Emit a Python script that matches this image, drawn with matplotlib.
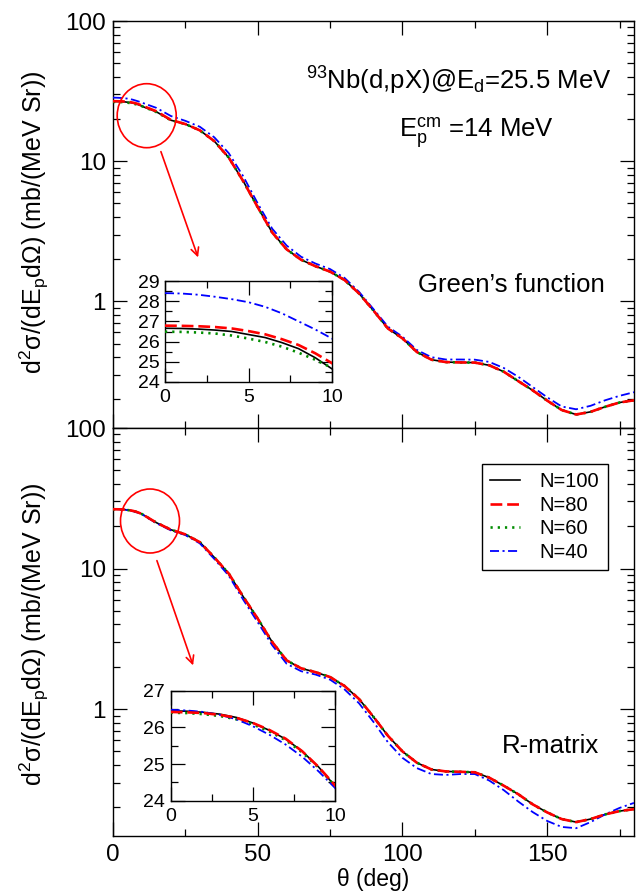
import matplotlib
matplotlib.use("Agg")
import matplotlib.pyplot as plt
from matplotlib.patches import Ellipse
from matplotlib.ticker import FixedLocator, LogLocator, NullFormatter, MultipleLocator

plt.rcParams['font.family'] = ['Liberation Sans', 'DejaVu Sans']
plt.rcParams['mathtext.fontset'] = 'custom'
plt.rcParams['mathtext.rm'] = 'Liberation Sans'
plt.rcParams['mathtext.it'] = 'Liberation Sans:italic'
plt.rcParams['mathtext.bf'] = 'Liberation Sans:bold'
plt.rcParams['mathtext.sf'] = 'Liberation Sans'
plt.rcParams['lines.scale_dashes'] = False

# ---------------- data ----------------
theta = [0, 1, 2, 3, 4, 5, 6, 7, 8, 9, 10,
         15, 20, 25, 30, 35, 40, 45, 50, 55, 60, 65, 70, 75, 80, 85, 90,
         95, 100, 105, 110, 115, 120, 125, 130, 135, 140, 145, 150, 155,
         160, 165, 170, 175, 180]

series_labels = ["N=100", "N=80", "N=60", "N=40"]

# Green's function (top panel)
green_N100 = [26.66, 26.65, 26.62, 26.57, 26.50, 26.35, 26.20, 25.95, 25.65, 25.20, 24.65,
              22.5, 19.6, 18.4, 16.6, 13.9, 10.6, 7.2, 4.7, 3.1, 2.35, 1.98, 1.78, 1.63,
              1.42, 1.14, 0.86, 0.64, 0.545, 0.435, 0.384, 0.369, 0.367, 0.366, 0.35,
              0.315, 0.27, 0.232, 0.196, 0.168, 0.156, 0.163, 0.177, 0.19, 0.197]
green_N80 = [26.79, 26.78, 26.76, 26.72, 26.65, 26.52, 26.36, 26.12, 25.83, 25.42, 24.93,
             22.7, 19.7, 18.4, 16.6, 13.9, 10.6, 7.2, 4.7, 3.1, 2.35, 1.98, 1.78, 1.63,
             1.42, 1.14, 0.86, 0.64, 0.545, 0.435, 0.384, 0.369, 0.367, 0.366, 0.35,
             0.315, 0.27, 0.232, 0.196, 0.168, 0.156, 0.163, 0.177, 0.19, 0.197]
green_N60 = [26.49, 26.48, 26.45, 26.40, 26.30, 26.15, 25.98, 25.75, 25.45, 25.10, 24.70,
             22.4, 19.6, 18.4, 16.6, 13.9, 10.6, 7.2, 4.7, 3.1, 2.35, 1.98, 1.78, 1.63,
             1.42, 1.14, 0.86, 0.64, 0.545, 0.435, 0.384, 0.369, 0.367, 0.366, 0.35,
             0.315, 0.27, 0.232, 0.196, 0.168, 0.156, 0.163, 0.177, 0.19, 0.197]
green_N40 = [28.40, 28.38, 28.32, 28.22, 28.10, 27.95, 27.72, 27.40, 27.00, 26.60, 26.15,
             24.0, 21.0, 19.4, 17.6, 14.8, 11.4, 7.8, 5.0, 3.3, 2.5, 2.08, 1.86, 1.70,
             1.47, 1.17, 0.88, 0.66, 0.56, 0.45, 0.40, 0.385, 0.385, 0.384, 0.37,
             0.335, 0.29, 0.245, 0.207, 0.178, 0.17, 0.18, 0.197, 0.212, 0.225]

# R-matrix (bottom panel)
rmat_N100 = [26.45, 26.44, 26.41, 26.36, 26.27, 26.12, 25.92, 25.68, 25.35, 24.92, 24.40,
             21.2, 18.9, 17.5, 15.4, 12.0, 9.2, 6.3, 4.4, 3.0, 2.22, 1.95, 1.83, 1.69,
             1.46, 1.18, 0.88, 0.645, 0.50, 0.415, 0.372, 0.36, 0.358, 0.355, 0.325,
             0.285, 0.248, 0.21, 0.184, 0.165, 0.157, 0.165, 0.178, 0.188, 0.194]
rmat_N80 = [26.42, 26.41, 26.39, 26.34, 26.26, 26.12, 25.93, 25.69, 25.35, 24.92, 24.42,
            21.2, 18.9, 17.5, 15.4, 12.0, 9.2, 6.3, 4.4, 3.0, 2.22, 1.95, 1.83, 1.69,
            1.46, 1.18, 0.88, 0.645, 0.50, 0.415, 0.372, 0.36, 0.358, 0.355, 0.325,
            0.285, 0.248, 0.21, 0.184, 0.165, 0.157, 0.165, 0.178, 0.188, 0.194]
rmat_N60 = [26.40, 26.39, 26.36, 26.31, 26.22, 26.08, 25.89, 25.65, 25.32, 24.90, 24.40,
            21.2, 18.9, 17.5, 15.4, 12.0, 9.2, 6.3, 4.4, 3.0, 2.22, 1.95, 1.83, 1.69,
            1.46, 1.18, 0.88, 0.645, 0.50, 0.415, 0.372, 0.36, 0.358, 0.355, 0.325,
            0.285, 0.248, 0.21, 0.184, 0.165, 0.157, 0.165, 0.178, 0.188, 0.194]
rmat_N40 = [26.48, 26.46, 26.42, 26.34, 26.22, 26.03, 25.80, 25.53, 25.20, 24.80, 24.35,
            21.0, 18.7, 17.3, 15.1, 11.7, 8.9, 6.0, 4.15, 2.85, 2.1, 1.86, 1.76, 1.62,
            1.38, 1.10, 0.81, 0.58, 0.45, 0.38, 0.345, 0.34, 0.345, 0.345, 0.31,
            0.265, 0.22, 0.185, 0.16, 0.145, 0.142, 0.157, 0.178, 0.198, 0.215]

main_yticks = [1, 10, 100]
main_xticks = [0, 50, 100, 150]
inset_xticks = [0, 5, 10]
top_inset_yticks = [24, 25, 26, 27, 28, 29]
bot_inset_yticks = [24, 25, 26, 27]

# ---------------- styles ----------------
styles = [
    dict(color='black', lw=1.2, linestyle='-'),
    dict(color='#ff0000', lw=1.9, linestyle=(0, (8.5, 3.5))),
    dict(color='#008c00', lw=1.9, linestyle=(0, (1.6, 3.6))),
    dict(color='#0000ff', lw=1.3, linestyle=(0, (6.5, 2.5, 1.5, 2.5))),
]
zorders = [2, 5, 3, 4]

W, H = 641, 894
fig = plt.figure(figsize=(W / 100, H / 100), dpi=100)


def fx(px):
    return px / W


def fy(py):
    return 1 - py / H


def style_main(ax, show_xlabels):
    ax.set_yscale('log')
    ax.set_xlim(0, 180)
    ax.set_ylim(0.125, 100)
    ax.yaxis.set_major_locator(FixedLocator(main_yticks))
    ax.set_yticklabels([str(v) for v in main_yticks])
    ax.yaxis.set_minor_locator(LogLocator(base=10, subs=range(2, 10)))
    ax.yaxis.set_minor_formatter(NullFormatter())
    ax.set_xticks(main_xticks)
    ax.xaxis.set_minor_locator(MultipleLocator(25))
    ax.tick_params(which='both', direction='in', top=True, right=True, width=0.9,
                   labelsize=17.5, colors='black')
    ax.tick_params(which='major', length=10)
    ax.tick_params(which='minor', length=5)
    ax.tick_params(axis='y', pad=5)
    ax.tick_params(axis='x', pad=6, labelbottom=show_xlabels)
    for s in ax.spines.values():
        s.set_linewidth(1.0)


def style_inset(ax, yticks):
    ax.set_xlim(0, 10)
    ax.set_ylim(yticks[0], yticks[-1])
    ax.set_xticks(inset_xticks)
    ax.set_yticks(yticks)
    ax.xaxis.set_minor_locator(MultipleLocator(2.5))
    ax.yaxis.set_minor_locator(MultipleLocator(0.5))
    ax.tick_params(which='both', direction='in', top=True, right=True, width=0.9,
                   labelsize=14, colors='black')
    ax.tick_params(which='major', length=10)
    ax.tick_params(which='minor', length=5)
    ax.tick_params(axis='y', pad=4)
    ax.tick_params(axis='x', pad=5)
    for s in ax.spines.values():
        s.set_linewidth(1.0)


# axes positions (pixels)
L, R = 113, 634
ax_top = fig.add_axes([fx(L), fy(428), (R - L) / W, (428 - 21) / H])
ax_bot = fig.add_axes([fx(L), fy(836), (R - L) / W, (836 - 428) / H])
in_top = fig.add_axes([fx(165), fy(382), (332 - 165) / W, (382 - 281) / H])
in_bot = fig.add_axes([fx(170.7), fy(800.7), (335 - 170.7) / W, (800.7 - 690.7) / H])

top_data = [green_N100, green_N80, green_N60, green_N40]
bot_data = [rmat_N100, rmat_N80, rmat_N60, rmat_N40]

for ax, data in [(ax_top, top_data), (in_top, top_data), (ax_bot, bot_data), (in_bot, bot_data)]:
    for d, st, lab, z in zip(data, styles, series_labels, zorders):
        ax.plot(theta, d, label=lab, zorder=z, **st)

style_main(ax_top, False)
style_main(ax_bot, True)
style_inset(in_top, top_inset_yticks)
style_inset(in_bot, bot_inset_yticks)

leg = ax_bot.legend(loc='upper left', bbox_to_anchor=((482 - L) / (R - L), 1 - (464 - 428) / (836 - 428)),
                    borderaxespad=0, fancybox=False, edgecolor='black', framealpha=1,
                    fontsize=14.5, handlelength=1.45, handletextpad=1.0, labelspacing=0.22,
                    borderpad=0.42)
leg.get_frame().set_linewidth(1.0)

# annotations
fig.text(fx(306), fy(90), r"$^{93}$Nb(d,pX)@E$_{\rm d}$=25.5 MeV", fontsize=18.5, ha='left', va='baseline')
fig.text(fx(399), fy(138), r"E$_{\rm p}^{\rm cm}$ =14 MeV", fontsize=18.5, ha='left', va='baseline')
fig.text(fx(418), fy(292), "Green\u2019s function", fontsize=18.5, ha='left', va='baseline')
fig.text(fx(502), fy(753), "R-matrix", fontsize=18.5, ha='left', va='baseline')

ylab = r"d$^2$σ/(dE$_{\rm p}$dΩ) (mb/(MeV Sr))"
fig.text(fx(34), fy(222), ylab, fontsize=18, rotation=90, ha='center', va='center')
fig.text(fx(34), fy(634), ylab, fontsize=18, rotation=90, ha='center', va='center')
fig.text(fx(373.5), fy(886), "θ (deg)", fontsize=16.5, ha='center', va='baseline')

# red circles and arrows
for (cx, cy), (x0, y0), (x1, y1) in [((146.7, 115.7), (160, 149), (199, 260)),
                                       ((150, 521), (156, 558), (194, 668))]:
    e = Ellipse((fx(cx), fy(cy)), 59 / W, 64 / H, transform=fig.transFigure,
                fill=False, edgecolor='#ff0000', lw=1.2)
    fig.add_artist(e)
    fig.add_artist(matplotlib.patches.FancyArrowPatch(
        (fx(x0), fy(y0)), (fx(x1), fy(y1)), transform=fig.transFigure,
        arrowstyle='->', mutation_scale=14, color='#ff0000', lw=1.2))

fig.savefig("out.png", dpi=100)
